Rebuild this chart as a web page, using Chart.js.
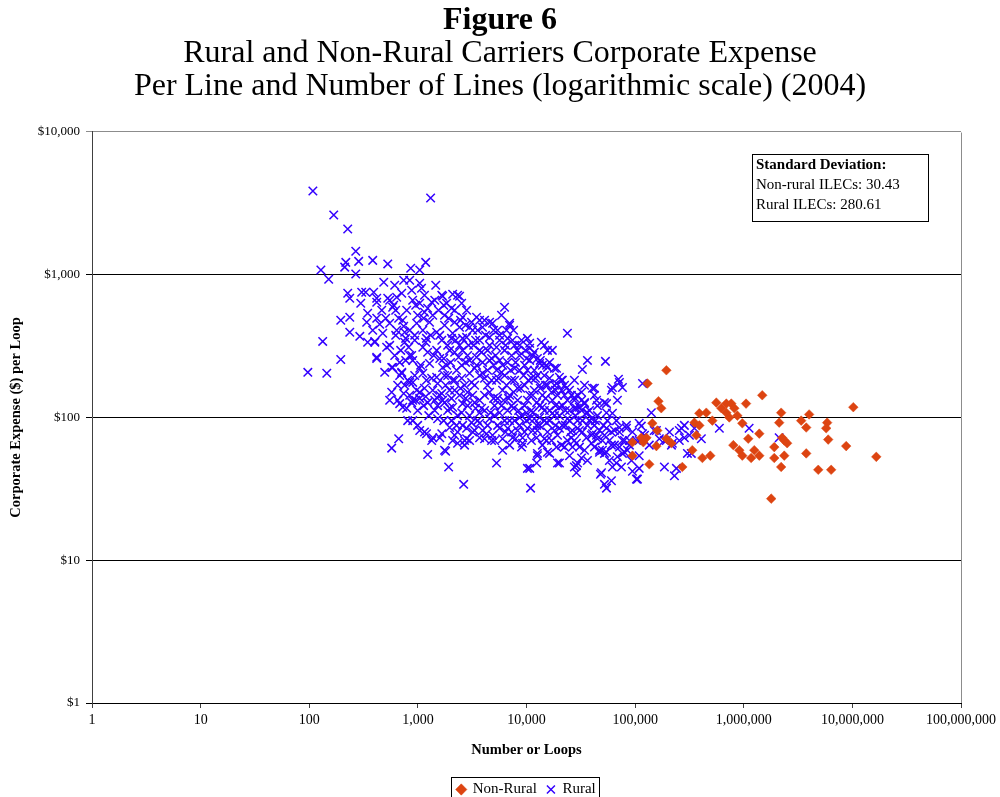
<!DOCTYPE html>
<html>
<head>
<meta charset="utf-8">
<script src="https://cdn.jsdelivr.net/npm/chart.js@4/dist/chart.umd.min.js"></script>
<style>
  html, body { margin: 0; padding: 0; background: #fff; }
  #wrap { width: 1000px; height: 797px; }
</style>
</head>
<body>
<div id="wrap"><canvas id="expenseChart" width="1000" height="797"></canvas></div>
<script>
// [number of loops, corporate expense per loop ($)]
const nonRural = [
  [194000, 214], [130000, 173], [164000, 130], [174000, 116], [144000, 91], [160000, 81],
  [157000, 63], [135000, 47], [94500, 54], [127000, 72], [194000, 71], [216000, 66],
  [272000, 45], [336000, 59], [390000, 107], [452000, 108], [351000, 92], [390000, 88],
  [366000, 75], [416000, 52], [492000, 54], [514000, 95], [559000, 127], [622000, 116],
  [691000, 125], [768000, 125], [691000, 108], [736000, 100], [819000, 116], [873000, 103],
  [970000, 91], [1050000, 125], [1100000, 71], [1390000, 77], [1480000, 143], [802000, 64],
  [910000, 59], [970000, 54], [1170000, 52], [1250000, 59], [1390000, 54], [1910000, 62],
  [1910000, 52], [2210000, 108], [2120000, 92], [2210000, 45], [1790000, 27], [2260000, 72],
  [2360000, 69], [2510000, 66], [2360000, 54], [3380000, 95], [3760000, 85], [4000000, 105],
  [3760000, 56], [4850000, 43], [6380000, 43], [5860000, 92], [5740000, 84], [5990000, 70],
  [8770000, 63], [10200000, 118], [16600000, 53], [114000, 72], [119000, 67], [94500, 67]
];

const rural = [
  [108, 3860], [168, 2620], [226, 2090], [268, 1460], [217, 1220], [212, 1130], [285, 1240],
  [384, 1260], [528, 1190], [128, 1080], [151, 930], [268, 1010], [485, 886], [859, 1110],
  [1040, 1080], [1180, 1220], [1310, 3440], [841, 915], [226, 742], [236, 684], [304, 754],
  [331, 754], [392, 754], [298, 631], [418, 641], [195, 479], [236, 503], [345, 537],
  [338, 464], [445, 450], [528, 684], [1690, 707], [2090, 730], [2420, 707], [133, 341],
  [195, 255], [97, 207], [145, 204], [418, 259], [236, 395], [292, 370], [345, 336],
  [401, 341], [550, 320], [756, 336], [612, 272], [586, 224], [710, 204], [806, 182],
  [896, 176], [1110, 204], [975, 155], [574, 150], [550, 132], [680, 125], [789, 116],
  [896, 132], [1040, 136], [1230, 127], [1490, 138], [896, 95], [666, 71], [574, 61],
  [1200, 77], [1370, 72], [1230, 55], [1800, 58], [1590, 72], [2090, 69], [1920, 45],
  [2640, 34], [1960, 85], [2690, 64], [2810, 71], [1040, 872], [418, 684], [550, 662],
  [638, 695], [710, 742], [586, 592], [789, 564], [896, 662], [1040, 631], [1340, 641],
  [1660, 718], [2320, 718], [2530, 631], [2040, 582], [1840, 631], [2810, 564], [3470, 503],
  [4570, 464], [3940, 428], [418, 495], [384, 408], [401, 336], [418, 264], [574, 224],
  [710, 207], [516, 310], [475, 389], [638, 408], [550, 457], [725, 479], [841, 408],
  [975, 457], [1110, 408], [1280, 464], [1490, 395], [1760, 442], [2090, 389], [2420, 428],
  [2810, 364], [3190, 408], [3700, 347], [4570, 364], [5300, 310], [1110, 310], [1490, 295],
  [1960, 295], [2580, 295], [3470, 264], [4570, 251], [896, 251], [1280, 239], [1690, 224],
  [2270, 214], [2990, 204], [3940, 204], [5300, 214], [1490, 191], [652, 132], [725, 118],
  [877, 127], [1040, 150], [680, 197], [841, 176], [1520, 173], [1660, 147], [1430, 132],
  [2090, 118], [1150, 79], [1340, 69], [1660, 77], [2320, 79], [2690, 69], [2320, 66],
  [1760, 59], [4290, 77], [5300, 48], [3700, 91], [6280, 592], [2580, 503], [3700, 479],
  [4870, 457], [6990, 457], [6550, 408], [5650, 376], [7440, 347], [10200, 358], [10700, 331],
  [13700, 336], [15600, 295], [17300, 295], [11800, 286], [10000, 259], [13200, 239],
  [15600, 224], [18100, 221], [20100, 191], [18900, 173], [21400, 182], [24900, 155],
  [27600, 138], [30700, 118], [35600, 108], [39600, 98], [24900, 112], [20100, 118],
  [17300, 107], [14000, 118], [13200, 100], [11400, 108], [10000, 95], [8630, 100],
  [23800, 389], [36400, 251], [32700, 217], [53300, 247], [70200, 185], [61800, 162],
  [76400, 162], [40500, 160], [42200, 143], [34200, 125], [54500, 125], [67300, 95],
  [83200, 88], [114000, 87], [141000, 108], [117000, 173], [94500, 79], [60500, 79],
  [47000, 57], [52200, 56], [76400, 56], [67300, 48], [92500, 50], [109000, 44], [48000, 40],
  [60500, 36], [54500, 32], [103000, 37], [10900, 32], [10700, 44], [27600, 45], [29500, 48],
  [20100, 48], [16300, 56], [12600, 54], [12400, 48], [6020, 59], [9000, 62], [39600, 66],
  [44100, 75], [39600, 75], [25900, 72], [28800, 66], [30700, 62], [18900, 62], [15300, 69],
  [12400, 72], [9200, 72], [7440, 72], [6020, 71], [4770, 69], [3700, 72], [2990, 69],
  [3190, 79], [6990, 442], [14600, 320], [10700, 305], [18900, 221], [15300, 232],
  [21000, 182], [23300, 160], [32100, 150], [42200, 160], [44100, 132], [34200, 127],
  [38000, 112], [28800, 116], [10200, 44], [12600, 56], [15600, 57], [19300, 48], [28800, 46],
  [28800, 41], [32100, 52], [26500, 62], [22400, 62], [47000, 59], [54500, 57], [49000, 41],
  [40500, 77], [35600, 72], [4110, 71], [9200, 66],
  [2990, 251], [3330, 168], [3700, 295], [4110, 143], [4380, 214], [4770, 182], [5080, 121],
  [5650, 251], [6020, 155], [6280, 197], [6700, 112], [6990, 143], [7290, 272], [7770, 182],
  [8280, 132], [8630, 214], [9000, 103], [9600, 168], [10200, 132], [10700, 251], [11100, 112],
  [11800, 155], [12600, 197], [13200, 121], [14000, 143], [14600, 95], [15600, 168],
  [16300, 112], [17300, 132], [18500, 88], [19300, 143], [20100, 103], [21400, 121],
  [22800, 88], [24900, 95], [26500, 81], [28200, 103], [30700, 81], [2180, 182], [2420, 143],
  [2530, 232], [2690, 168], [2870, 121], [1960, 155], [1760, 197], [1590, 143], [1430, 112],
  [1880, 112], [2320, 103], [2990, 103], [3550, 95], [4380, 88], [5420, 88], [6700, 84],
  [8280, 81], [10200, 84], [12600, 81], [15600, 79], [19300, 75], [23800, 69], [2580, 88],
  [3330, 81], [4110, 112], [5080, 103], [6280, 95], [7770, 95], [9600, 121], [11800, 98],
  [14600, 112], [4570, 320], [5650, 347], [6280, 295], [7770, 320], [8630, 272], [9600, 232],
  [11800, 214], [14600, 197], [18100, 168], [22400, 143], [27600, 132], [32100, 112],
  [38000, 95], [42200, 88], [47000, 81], [52200, 75], [58000, 69], [64500, 64], [71700, 79],
  [79700, 69], [88600, 64], [79700, 57], [68700, 53], [58000, 50], [109000, 69], [122000, 75],
  [135000, 64], [150000, 81], [167000, 71], [186000, 69], [207000, 79], [216000, 64],
  [255000, 81], [284000, 88], [316000, 75], [351000, 84],
  [60500, 155], [71700, 176], [52200, 127], [68700, 132], [54500, 108], [61800, 107],
  [54500, 84], [71700, 85], [83200, 84], [109000, 91], [117000, 77], [76400, 69], [88600, 69],
  [103000, 69], [71700, 62], [85000, 59], [109000, 54], [50000, 59], [61800, 45], [74800, 45],
  [94500, 42], [52200, 34], [105000, 37], [186000, 45], [240000, 44], [230000, 39],
  [157000, 81], [194000, 69], [220000, 66], [267000, 84], [284000, 72], [303000, 56],
  [329000, 56], [255000, 69], [407000, 71], [596000, 84], [1120000, 84], [2120000, 72],
  [1080, 804], [1150, 718], [1230, 582], [1370, 520], [1460, 844], [1550, 564], [1130, 495],
  [1310, 376], [1180, 336], [1400, 272], [1060, 232], [1200, 182], [1370, 155], [1130, 121],
  [1520, 121], [1260, 103], [1730, 611], [1920, 495], [2180, 564], [2470, 479], [2750, 442],
  [1660, 347], [1880, 320], [2230, 347], [2580, 358], [2930, 320], [1730, 259], [2000, 243],
  [2370, 264], [2750, 243], [1800, 168], [2090, 182], [2470, 160], [2870, 150], [1690, 132],
  [2040, 136], [2580, 125], [2270, 88], [2810, 84], [1730, 95], [3120, 464], [3550, 408],
  [4200, 376], [4980, 408], [3260, 320], [3860, 286], [5190, 272], [3470, 232], [4110, 188],
  [4980, 232], [5530, 188], [3190, 143], [3700, 132], [4570, 150], [5420, 136], [3400, 116],
  [4670, 108], [3940, 81], [4870, 75], [5650, 84], [5890, 520], [7600, 408], [9000, 347],
  [6420, 320], [8280, 295], [9800, 295], [6020, 232], [7130, 214], [7930, 243], [9400, 197],
  [6550, 168], [7600, 150], [8820, 160], [10400, 182], [6150, 132], [7290, 121], [8450, 112],
  [10000, 108], [6420, 79], [7930, 71], [9600, 79], [6990, 64], [11400, 272], [13400, 251],
  [16300, 243], [12100, 188], [15000, 168], [17000, 150], [21000, 155], [23800, 132],
  [11400, 143], [13400, 160], [12400, 88], [15300, 92], [18100, 103], [21400, 88], [25400, 79],
  [17000, 69], [21000, 64], [14000, 64], [11400, 81], [27600, 182], [34200, 168], [29500, 143],
  [45000, 121], [36400, 88], [45000, 103], [55600, 95], [32700, 95], [29500, 84], [50000, 69],
  [42200, 62], [34200, 59], [64500, 81], [36400, 50], [24900, 54], [465, 564], [506, 495],
  [625, 376], [695, 295], [772, 251], [495, 207], [652, 168], [740, 147], [955, 132],
  [995, 112], [806, 95], [1040, 81], [599, 611], [877, 779], [740, 915], [612, 844],
  [625, 564], [666, 495], [740, 435], [772, 358], [823, 310], [877, 272], [935, 347],
  [995, 520], [955, 611],
  [1150, 545], [1430, 662], [1760, 520], [2180, 464], [2990, 428], [4110, 479], [5420, 408],
  [756, 395], [935, 376], [1200, 358], [1590, 376], [2040, 358], [2420, 320], [3400, 347],
  [4380, 295], [6700, 358], [8630, 320], [680, 243], [841, 272], [1040, 221], [1230, 286],
  [1590, 259], [1840, 232], [2180, 286], [2870, 272], [3330, 221], [3940, 243], [4770, 259],
  [6700, 243], [7770, 221], [10200, 214], [12600, 259], [14000, 232], [756, 168], [935, 197],
  [1150, 160], [1340, 188], [1880, 197], [2180, 155], [2530, 188], [3120, 176], [3700, 197],
  [4380, 168], [5300, 182], [5890, 207], [7290, 182], [8280, 160], [11100, 188], [13200, 168],
  [16300, 188], [18500, 155], [22400, 168], [25900, 143], [841, 143], [1180, 140], [1760, 127],
  [1960, 116], [2750, 136], [3330, 127], [3860, 116], [4980, 136], [5890, 121], [6840, 136],
  [7600, 116], [10700, 143], [12400, 127], [15000, 136], [18500, 121], [22800, 112],
  [27600, 116], [32100, 132], [995, 88], [1520, 98], [2040, 95], [2530, 108], [3120, 92],
  [3700, 108], [4570, 98], [5650, 108], [6990, 95], [8630, 88], [10700, 98], [13200, 88],
  [16300, 95], [20100, 84], [23800, 98], [29500, 95], [36400, 108], [43100, 95], [51100, 88],
  [2180, 75], [5080, 69], [7290, 79], [11100, 69], [14600, 71], [18100, 81], [32700, 79],
  [45000, 71], [60500, 64], [27600, 69]
];

const xTickValues = [1, 10, 100, 1000, 10000, 100000, 1000000, 10000000, 100000000];
const yTickValues = [1, 10, 100, 1000, 10000];

const titleText = "Figure 6";
const subtitleLines = [
  "Rural and Non-Rural Carriers Corporate Expense",
  "Per Line and Number of Lines (logarithmic scale) (2004)"
];
const noteLines = ["Standard Deviation:", "Non-rural ILECs: 30.43", "Rural ILECs: 280.61"];

const SERIF = '"Liberation Serif", "Times New Roman", serif';
const RED = "#dd4411";
const BLUE = "#3300ff";

function toXY(list) {
  return list.map(p => ({ x: p[0], y: p[1] }));
}

// right frame, std-dev note box and a border round the legend
const extrasPlugin = {
  id: "extras",
  afterDraw(chart) {
    const ctx = chart.ctx;
    const a = chart.chartArea;
    ctx.save();

    ctx.strokeStyle = "#8c8c8c";
    ctx.lineWidth = 1;
    const r = Math.round(a.right) + 0.5;
    ctx.beginPath();
    ctx.moveTo(r, Math.round(a.top) + 0.5);
    ctx.lineTo(r, Math.round(a.bottom));
    ctx.stroke();

    // note box
    const bx = Math.round(a.right) - 209 + 0.5;
    const by = Math.round(a.top) + 22 + 0.5;
    ctx.fillStyle = "#fff";
    ctx.fillRect(bx, by, 176, 67);
    ctx.strokeStyle = "#000";
    ctx.strokeRect(bx, by, 176, 67);
    ctx.fillStyle = "#000";
    ctx.textBaseline = "alphabetic";
    ctx.textAlign = "left";
    noteLines.forEach((line, i) => {
      ctx.font = (i === 0 ? "bold " : "") + "15px " + SERIF;
      ctx.fillText(line, bx + 3.5, by + 14.5 + i * 20);
    });

    // legend border
    const hb = chart.legend.legendHitBoxes;
    if (hb && hb.length) {
      let minX = Infinity, maxX = -Infinity, top = Infinity, bottom = -Infinity;
      hb.forEach(h => {
        minX = Math.min(minX, h.left);
        maxX = Math.max(maxX, h.left + h.width);
        top = Math.min(top, h.top);
        bottom = Math.max(bottom, h.top + h.height);
      });
      ctx.strokeStyle = "#000";
      ctx.strokeRect(Math.round(minX) - 5.5, Math.round(top) - 4.5,
        Math.round(maxX - minX) + 10, Math.round(bottom - top) + 12);
    }
    ctx.restore();
  }
};

const ctx = document.getElementById("expenseChart").getContext("2d");

const expenseChart = new Chart(ctx, {
  type: "scatter",
  data: {
    datasets: [
      {
        label: "Non-Rural",
        data: toXY(nonRural),
        pointStyle: "rectRot",
        pointRadius: 4.8,
        pointHoverRadius: 4.8,
        backgroundColor: RED,
        borderColor: RED,
        borderWidth: 0.5,
      },
      {
        label: "Rural",
        data: toXY(rural),
        pointStyle: "crossRot",
        pointRadius: 6,
        pointHoverRadius: 6,
        backgroundColor: BLUE,
        borderColor: BLUE,
        borderWidth: 1.5,
      },
    ],
  },
  options: {
    responsive: false,
    animation: false,
    devicePixelRatio: 1,
    // legend box runs off the bottom edge like in the original
    layout: { padding: { left: 0, right: 0, top: 0, bottom: -10 } },
    plugins: {
      tooltip: { enabled: false },
      title: {
        display: true,
        text: titleText,
        color: "#000",
        font: { family: SERIF, size: 32, weight: "bold", lineHeight: 1.0 },
        padding: { top: 5, bottom: 0 },
      },
      subtitle: {
        display: true,
        text: subtitleLines,
        color: "#000",
        font: { family: SERIF, size: 32, weight: "normal", lineHeight: 1.03 },
        padding: { top: 0, bottom: 29 },
      },
      legend: {
        display: true,
        position: "bottom",
        fullSize: false,
        labels: {
          usePointStyle: true,
          boxWidth: 8,
          boxHeight: 8,
          padding: 10,
          color: "#000",
          font: { family: SERIF, size: 15 },
        },
      },
    },
    scales: {
      x: {
        type: "logarithmic",
        min: 1,
        max: 100000000,
        afterBuildTicks: (scale) => {
          scale.ticks = xTickValues.map(v => ({ value: v }));
        },
        afterFit: (scale) => { scale.height = 69; },
        ticks: {
          autoSkip: false,
          maxRotation: 0,
          padding: 4,
          color: "#000",
          font: { family: SERIF, size: 14 },
          callback: (value) => Number(value).toLocaleString("en-US"),
        },
        grid: {
          drawOnChartArea: false,
          drawTicks: true,
          tickLength: 5,
          color: "#404040",
        },
        border: { display: true, color: "#000", width: 1 },
        title: {
          display: true,
          text: "Number or Loops",
          color: "#000",
          font: { family: SERIF, size: 14.5, weight: "bold" },
          padding: { top: 0, bottom: 13 },
        },
      },
      y: {
        type: "logarithmic",
        min: 1,
        max: 10000,
        afterBuildTicks: (scale) => {
          scale.ticks = yTickValues.map(v => ({ value: v }));
        },
        afterFit: (scale) => { scale.width = 92; },
        ticks: {
          autoSkip: false,
          padding: 6,
          color: "#000",
          font: { family: SERIF, size: 13 },
          callback: (value) => "$" + Number(value).toLocaleString("en-US"),
        },
        grid: {
          drawTicks: true,
          tickLength: 6,
          color: (c) => (c.tick && c.tick.value === 10000 ? "#8c8c8c" : "#000"),
        },
        border: { display: true, color: "#404040", width: 1 },
        title: {
          display: true,
          text: "Corporate Expense ($) per Loop",
          color: "#000",
          font: { family: SERIF, size: 14.5, weight: "bold" },
          padding: { top: 8, bottom: 0 },
        },
      },
      // empty right-hand strip so the titles stay centred on the page
      spacer: {
        type: "linear",
        position: "right",
        display: true,
        afterFit: (scale) => { scale.width = 38; },
        grid: { display: false },
        ticks: { display: false },
        border: { display: false },
      },
    },
  },
  plugins: [extrasPlugin],
});
</script>
</body>
</html>
